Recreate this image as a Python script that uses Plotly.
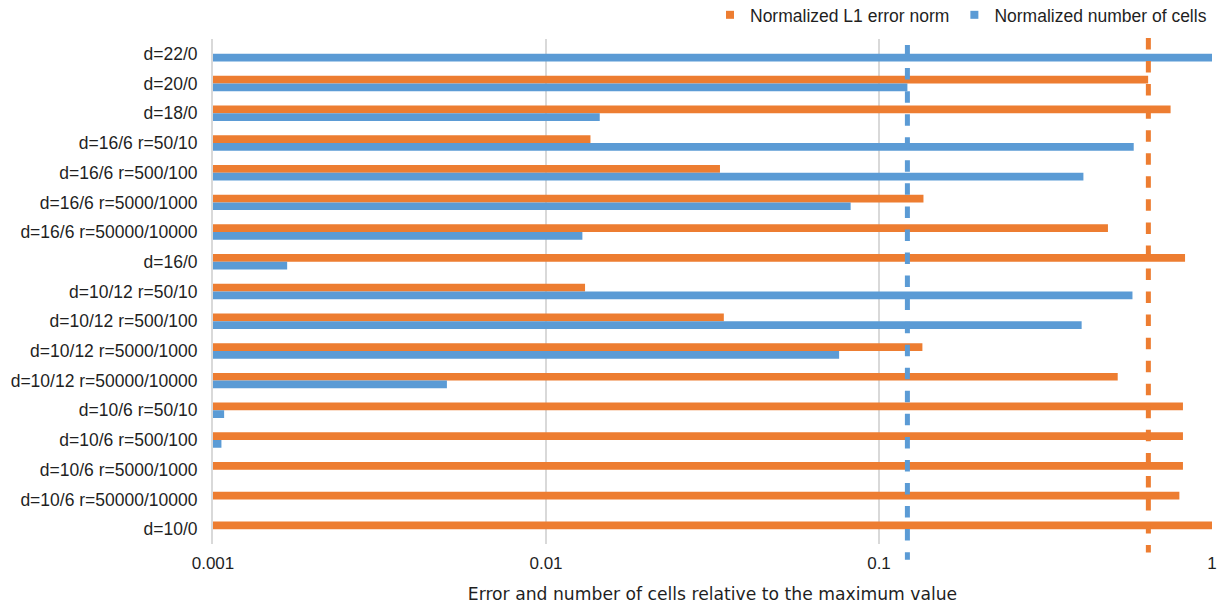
import plotly.graph_objects as go

# Mesh configurations, listed top to bottom
configs = [
    "d=22/0", "d=20/0", "d=18/0",
    "d=16/6 r=50/10", "d=16/6 r=500/100", "d=16/6 r=5000/1000", "d=16/6 r=50000/10000",
    "d=16/0",
    "d=10/12 r=50/10", "d=10/12 r=500/100", "d=10/12 r=5000/1000", "d=10/12 r=50000/10000",
    "d=10/6 r=50/10", "d=10/6 r=500/100", "d=10/6 r=5000/1000", "d=10/6 r=50000/10000",
    "d=10/0",
]

# Normalized L1 error norm per configuration
l1_error = [
    None, 0.643, 0.751,
    0.0136, 0.0333, 0.136, 0.487,
    0.830,
    0.0131, 0.0342, 0.135, 0.521,
    0.818, 0.818, 0.818, 0.798,
    1.0,
]

# Normalized number of cells per configuration
n_cells = [
    1.0, 0.1217, 0.0145,
    0.582, 0.411, 0.0822, 0.01286,
    0.00167,
    0.577, 0.406, 0.0759, 0.00504,
    0.00108, 0.00106, None, None,
    None,
]

# Reference levels shown as dashed vertical lines
l1_reference = 0.644
cells_reference = 0.1217

tick_vals = [0.001, 0.01, 0.1, 1]
tick_text = ["0.001", "0.01", "0.1", "1"]

ORANGE = "#ED7D31"
BLUE = "#5B9BD5"
SANS = "Liberation Sans"
TITLE_FONT = "DejaVu Sans"
TEXT = "#1f1f1f"

fig = go.Figure()
fig.add_trace(go.Bar(
    y=configs, x=l1_error, orientation="h", name="Normalized L1 error norm",
    marker=dict(color=ORANGE, line=dict(width=0)), showlegend=False,
))
fig.add_trace(go.Bar(
    y=configs, x=n_cells, orientation="h", name="Normalized number of cells",
    marker=dict(color=BLUE, line=dict(width=0)), showlegend=False,
))

# Legend entries with small square keys
for name, color in [("Normalized L1 error norm", ORANGE), ("Normalized number of cells", BLUE)]:
    fig.add_trace(go.Scatter(
        x=[None], y=[None], mode="markers", name=name,
        marker=dict(symbol="square", size=8, color=color),
        showlegend=True,
    ))

# Dashed reference lines, drawn from the top down
for value, color, top, bottom in [
    (cells_reference, BLUE, 0.988, -0.031),
    (l1_reference, ORANGE, 1.002, -0.017),
]:
    fig.add_shape(
        type="line", xref="x", yref="paper",
        x0=value, x1=value, y0=top, y1=bottom,
        line=dict(color=color, width=5, dash="11.5px,11.55px"),
        layer="above",
    )

fig.update_layout(
    width=1222, height=607,
    margin=dict(l=213, r=10, t=39, b=62.6, autoexpand=False),
    paper_bgcolor="white", plot_bgcolor="white",
    barmode="group", bargap=0.48, bargroupgap=0,
    font=dict(family=SANS, size=17, color=TEXT),
    legend=dict(
        orientation="h", x=1.0, xanchor="right", y=1.012, yanchor="bottom",
        font=dict(family=SANS, size=17.5, color=TEXT),
        itemwidth=30, tracegroupgap=0,
        bgcolor="rgba(0,0,0,0)",
    ),
)

fig.update_xaxes(
    type="log", range=[-3, 0],
    tickvals=tick_vals, ticktext=tick_text,
    showgrid=True, gridcolor="#D9D9D9", gridwidth=1.5,
    showline=False, zeroline=False,
    ticks="", ticklabelstandoff=7,
    tickfont=dict(family=SANS, size=17, color=TEXT),
    title=dict(text="Error and number of cells relative to the maximum value",
               font=dict(family=TITLE_FONT, size=17.2, color=TEXT), standoff=15),
)
fig.update_yaxes(
    type="category", range=[16.5, -0.5],
    showgrid=False, zeroline=False,
    showline=True, linecolor="#D9D9D9", linewidth=2,
    ticks="", ticklabelstandoff=10,
    tickfont=dict(family=SANS, size=17.5, color=TEXT),
)

fig.write_html("out.html")
